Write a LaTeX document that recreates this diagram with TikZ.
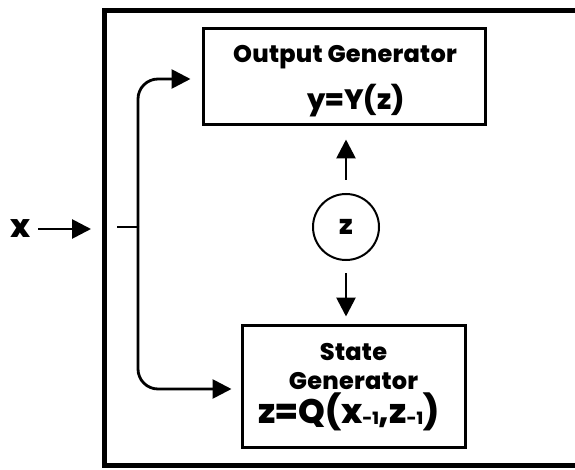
\documentclass[tikz,border=0pt]{standalone}
\usepackage{fontspec}
\setmainfont{Poppins}[BoldFont={Poppins ExtraBold}]
\newfontfamily\titlefont{Poppins}[BoldFont={Poppins ExtraBold},LetterSpace=1]
\usetikzlibrary{arrows.meta}
% lowered small index, as in x_{-1}
\newcommand{\lowidx}[1]{\raisebox{-1.5pt}{\fontsize{17}{17}\selectfont #1}}
\begin{document}
\begin{tikzpicture}[x=1pt,y=-1pt,
  frame/.style={line width=5pt},
  box/.style={draw, line width=3pt, inner sep=0pt},
  arr/.style={line width=2.8pt, -{Triangle[length=19pt,width=19pt]}},
  wire/.style={line width=2.8pt},
  title/.style={font=\titlefont\bfseries\fontsize{24}{24}\selectfont, inner sep=0pt, anchor=base},
  eqn/.style={font=\bfseries\fontsize{28}{28}\selectfont, inner sep=0pt, anchor=base}]
\useasboundingbox (0,0) rectangle (575,470);
\fill[white] (0,0) rectangle (575,470);

% outer frame, open to the right
\draw[frame] (580,11) -- (104,11) -- (104,465) -- (580,465);

% output generator
\node[box, minimum width=282pt, minimum height=96pt] (out) at (344,77) {};
\node[title] (outtitle) at (345,63) {Output Generator};
\node[eqn] (outeq) at (356,110) {y=Y(z)};

% state generator
\node[box, minimum width=223pt, minimum height=122pt] (st) at (353.5,386) {};
\node[title] (sttitle) at (353.5,360) {State};
\node[title] (sttitle2) at (353.5,389) {Generator};
\node[eqn, font=\bfseries\fontsize{34}{34}\selectfont] (steq) at (349,423) {z=Q(x\lowidx{-1},z\lowidx{-1})};

% state variable
\node[draw, circle, line width=2pt, minimum size=66pt, inner sep=0pt,
      font=\bfseries\fontsize{27}{27}\selectfont] (z) at (346,227) {z};
\draw[arr, shorten <=13pt, shorten >=13pt] (z.north) -- (z.north |- out.south);
\draw[arr, shorten <=12pt, shorten >=7pt] (z.south) -- (z.south |- st.north);

% input x and its fan-out
\node[font=\bfseries\fontsize{32}{32}\selectfont, inner sep=0pt, anchor=base] (xin) at (21,237) {x};
\coordinate (xtip) at (91,229);
\draw[arr, shorten <=7pt] (xin.east |- xtip) -- (xtip);
\coordinate (stub) at (117,227);
\coordinate (split) at (138,227);
\draw[wire] (stub) -- (split);
\draw[arr, rounded corners=20pt, shorten >=11pt] (split) |- ([yshift=-2pt]out.west);
\draw[arr, rounded corners=20pt, shorten >=9pt] (split) |- ([yshift=-3pt]st.west);
\end{tikzpicture}
\end{document}
